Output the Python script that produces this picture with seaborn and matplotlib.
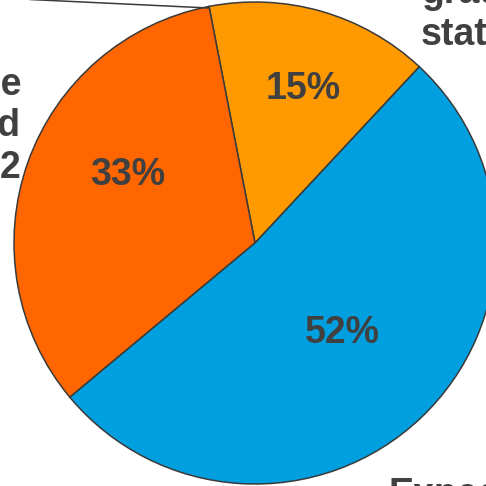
import matplotlib
matplotlib.use('Agg')
import matplotlib.pyplot as plt
import numpy as np
import seaborn as sns

# slice data (counter-clockwise from the start angle)
categories = ['Lower graduate status', 'Above the threshold in 2022', 'Expected']
shares = [15, 33, 52]
slice_colors = ['#FF9900', '#FF6600', '#009FDF']

TEXT_COLOR = '#404040'
EDGE_COLOR = '#3a3a3a'
START_ANGLE = 47
# where each percentage sits: (angle shift from wedge middle, fraction of radius)
PCT_PLACE = [(-1.4, 0.67), (-8.4, 0.60), (0.8, 0.52)]

sns.set_theme(style='white')
plt.rcParams['font.family'] = ['Liberation Sans', 'DejaVu Sans']

fig = plt.figure(figsize=(4.86, 4.86), dpi=100)
ax = fig.add_axes([0, 0, 1, 1])

# work in pixel-like units so the crop of the original slide lines up
cx, cy, radius = 255, 243, 241
wedges, texts, autotexts = ax.pie(
    shares,
    colors=slice_colors,
    startangle=START_ANGLE,
    counterclock=True,
    center=(cx, cy),
    radius=radius,
    autopct='%1.0f%%',
    pctdistance=0.6,
    wedgeprops={'edgecolor': EDGE_COLOR, 'linewidth': 1.1},
    textprops={'fontsize': 27, 'fontweight': 'bold', 'color': TEXT_COLOR},
    frame=True,
)

angle = START_ANGLE
for share, (shift, dist), txt in zip(shares, PCT_PLACE, autotexts):
    mid = np.deg2rad(angle + share * 3.6 / 2 + shift)
    txt.set_position((cx + dist * radius * np.cos(mid), cy + dist * radius * np.sin(mid)))
    txt.set_ha('center')
    txt.set_va('center')
    angle += share * 3.6

ax.set_xlim(0, 486)
ax.set_ylim(0, 486)
ax.set_aspect('equal')
ax.axis('off')

label_kw = dict(fontsize=27, fontweight='bold', color=TEXT_COLOR, linespacing=1.2)
ax.text(421, 486 - 45, 'Lower\ngraduate\nstatus', ha='left', va='baseline',
        multialignment='left', **label_kw)
ax.text(21, 486 - 178, 'Above the\nthreshold\nin 2022', ha='right', va='baseline',
        multialignment='right', **label_kw)
ax.text(388, 486 - 477, 'Expected', ha='left', va='top', **label_kw)

# leader line to the label above the cropped area
ax.plot([209, 30], [486 - 8, 486 + 0.5], color=EDGE_COLOR, linewidth=1.1, clip_on=False)

fig.savefig('out.png', dpi=100)
